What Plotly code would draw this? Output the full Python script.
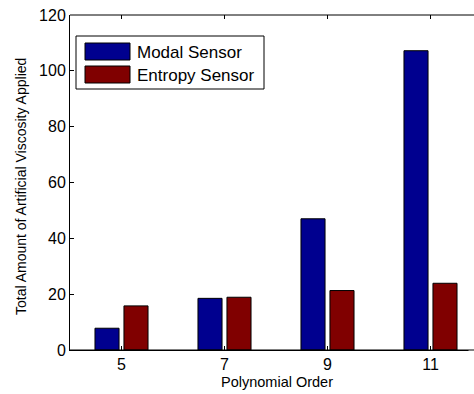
import plotly.graph_objects as go

orders = [5, 7, 9, 11]
series_names = ["Modal Sensor", "Entropy Sensor"]
modal = [7.8, 18.5, 47.0, 107.2]
entropy = [15.8, 18.9, 21.3, 23.9]
colors = ["#00008F", "#800000"]
yticks = [0, 20, 40, 60, 80, 100, 120]

W, H = 474, 394
L, R, T, B = 70, 3, 15, 44
font = "Liberation Sans, Arial, Helvetica, sans-serif"
x_right = 4 + (W - L - R) / 51.5

fig = go.Figure()
for name, vals, c in zip(series_names, [modal, entropy], colors):
    fig.add_trace(go.Bar(x=orders, y=vals, name=name, marker=dict(color=c, line=dict(color="black", width=1)),
                         showlegend=False))

pw, ph = W - L - R, H - T - B
def px(x):
    return (x - L) / pw
def py(y):
    return 1 - (y - T) / ph

shapes = [
    # white cover over the right edge of the plot area (reference has no right frame)
    dict(type="line", xref="paper", yref="paper", x0=1, x1=1, y0=-0.01, y1=1.01,
         line=dict(color="white", width=5), layer="above"),
    # top frame line and bottom axis extension to the window edge
    dict(type="line", xref="paper", yref="paper", x0=0, x1=px(W), y0=1, y1=1,
         line=dict(color="black", width=1)),
    dict(type="line", xref="paper", yref="paper", x0=0, x1=px(W), y0=0, y1=0,
         line=dict(color="black", width=1)),
]
for o in orders:
    shapes.append(dict(type="line", xref="x", yref="paper", x0=o, x1=o, y0=1, y1=py(T + 4),
                       line=dict(color="black", width=1)))

shapes.append(dict(type="rect", xref="paper", yref="paper", x0=px(76), x1=px(264), y0=py(89), y1=py(36),
                   line=dict(color="black", width=1), fillcolor="white"))
annotations = []
rows = [(43, 60), (66, 83)]
for (y0, y1), name, c in zip(rows, series_names, colors):
    shapes.append(dict(type="rect", xref="paper", yref="paper", x0=px(85), x1=px(130), y0=py(y1), y1=py(y0),
                       line=dict(color="black", width=1), fillcolor=c))
    annotations.append(dict(xref="paper", yref="paper", x=px(135), y=py((y0 + y1) / 2 + 1), text=name,
                            showarrow=False, xanchor="left", yanchor="middle",
                            font=dict(family=font, size=17, color="black")))
annotations.append(dict(xref="paper", yref="paper", x=px(277), y=py(382), text="Polynomial Order",
                        showarrow=False, xanchor="center", yanchor="middle",
                        font=dict(family=font, size=14.5, color="black")))
annotations.append(dict(xref="paper", yref="paper", x=px(21), y=py(187), text="Total Amount of Artificial Viscosity Applied",
                        showarrow=False, xanchor="center", yanchor="middle", textangle=-90,
                        font=dict(family=font, size=14, color="black")))

fig.update_layout(
    width=W, height=H, margin=dict(l=L, r=R, t=T, b=B),
    paper_bgcolor="white", plot_bgcolor="white",
    barmode="group", bargap=0.437, bargroupgap=0.17,
    shapes=shapes, annotations=annotations,
    xaxis=dict(range=[4, x_right], tickvals=orders, ticktext=[str(o) for o in orders],
               ticks="inside", ticklen=4, tickcolor="black", showline=True, linecolor="black", linewidth=1,
               mirror=False, showgrid=False, zeroline=False,
               tickfont=dict(family=font, size=16, color="black")),
    yaxis=dict(range=[0, 120], tickvals=yticks, ticks="inside", ticklen=4, tickcolor="black",
               showline=True, linecolor="black", linewidth=1, mirror=False, showgrid=False, zeroline=False,
               tickfont=dict(family=font, size=16, color="black")),
)
fig.write_html("out.html")
